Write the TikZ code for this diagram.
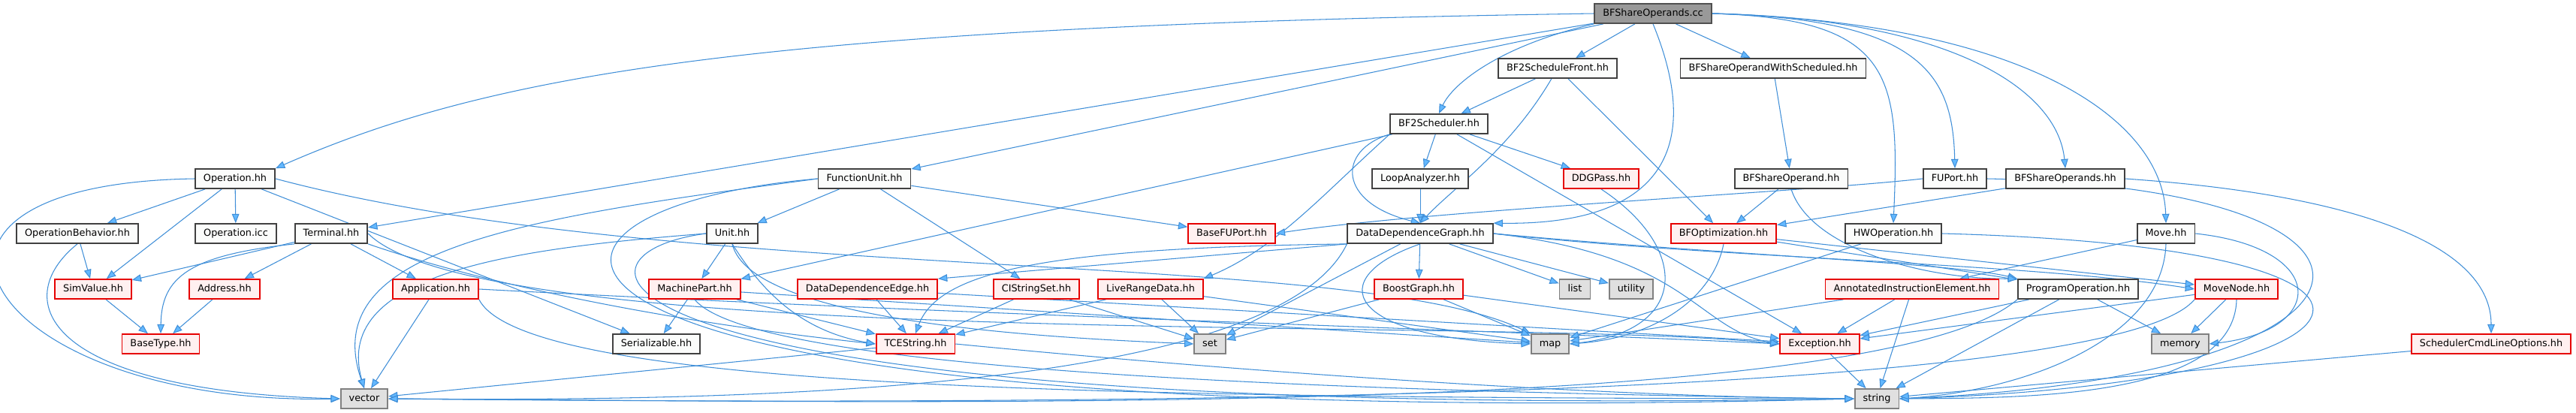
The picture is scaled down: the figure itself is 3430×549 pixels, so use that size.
\documentclass[tikz,border=0pt]{standalone}
\usepackage{fontspec}
\setmainfont{DejaVu Sans}
\usepackage{tikz}
\usetikzlibrary{arrows.meta}

\definecolor{edgeblue}{RGB}{64,143,216}
\definecolor{tipblue}{RGB}{99,184,255}
\definecolor{boxline}{RGB}{64,64,64}
\definecolor{boxfill}{RGB}{251,252,251}
\definecolor{redline}{RGB}{230,0,0}
\definecolor{redfill}{RGB}{255,240,240}
\definecolor{sysline}{RGB}{128,128,128}
\definecolor{sysfill}{RGB}{224,224,224}
\definecolor{rootline}{RGB}{80,80,80}
\definecolor{rootfill}{RGB}{153,153,153}

\pgfdeclarelayer{edges}
\pgfsetlayers{edges,main}

\tikzset{
  file/.style={draw=boxline,fill=boxfill,line width=1pt,minimum height=0.52cm,
    inner xsep=0.22cm,inner ysep=0pt,text height=5.6pt,text depth=1.6pt,
    font=\fontsize{7.3}{9}\selectfont},
  redfile/.style={file,draw=redline,fill=redfill},
  sysfile/.style={file,draw=sysline,fill=sysfill},
  rootfile/.style={file,draw=rootline,fill=rootfill},
  dep/.style={draw=edgeblue,line width=0.6pt,-{Triangle[length=7pt,width=5.5pt,fill=tipblue]}}
}

\begin{document}
\begin{tikzpicture}[x=0.02cm,y=-0.02cm]
\useasboundingbox (0,0) rectangle (3430,549);

% files
\node[rootfile] (cc) at (2201,18) {BFShareOperands.cc};
\node[file] (front) at (2074,91) {BF2ScheduleFront.hh};
\node[file] (withsched) at (2361,91) {BFShareOperandWithScheduled.hh};
\node[file] (sched) at (1916,165) {BF2Scheduler.hh};
\node[file] (operation) at (313,238) {Operation.hh};
\node[file] (funit) at (1151,238) {FunctionUnit.hh};
\node[file] (loop) at (1891,238) {LoopAnalyzer.hh};
\node[redfile] (ddgpass) at (2132,238) {DDGPass.hh};
\node[file] (shareop) at (2385,238) {BFShareOperand.hh};
\node[file] (fuport) at (2603,238) {FUPort.hh};
\node[file] (shareops) at (2750,238) {BFShareOperands.hh};
\node[file] (opbeh) at (103,311) {OperationBehavior.hh};
\node[file] (opicc) at (314,311) {Operation.icc};
\node[file] (terminal) at (441,311) {Terminal.hh};
\node[file] (unit) at (975,311) {Unit.hh};
\node[redfile] (basefuport) at (1640,311) {BaseFUPort.hh};
\node[file] (ddg) at (1891,311) {DataDependenceGraph.hh};
\node[redfile] (bfopt) at (2295,311) {BFOptimization.hh};
\node[file] (hwop) at (2521,311) {HWOperation.hh};
\node[file] (move) at (2884,311) {Move.hh};
\node[redfile] (simvalue) at (124,385) {SimValue.hh};
\node[redfile] (address) at (299,385) {Address.hh};
\node[redfile] (application) at (580,385) {Application.hh};
\node[redfile] (machinepart) at (925,385) {MachinePart.hh};
\node[redfile] (ddedge) at (1155,385) {DataDependenceEdge.hh};
\node[redfile] (cistrset) at (1380,385) {CIStringSet.hh};
\node[redfile] (liverange) at (1532,385) {LiveRangeData.hh};
\node[redfile] (boostgraph) at (1889,385) {BoostGraph.hh};
\node[sysfile] (list) at (2097,385) {list};
\node[sysfile] (utility) at (2172,385) {utility};
\node[redfile] (aie) at (2546,385) {AnnotatedInstructionElement.hh};
\node[file] (progop) at (2767,385) {ProgramOperation.hh};
\node[redfile] (movenode) at (2978,385) {MoveNode.hh};
\node[redfile] (basetype) at (214,458) {BaseType.hh};
\node[file] (serializable) at (874,458) {Serializable.hh};
\node[redfile] (tcestring) at (1219,458) {TCEString.hh};
\node[sysfile] (set) at (1611,458) {set};
\node[sysfile] (map) at (2064,458) {map};
\node[redfile] (exception) at (2423,458) {Exception.hh};
\node[sysfile] (memory) at (2903,458) {memory};
\node[redfile] (schedopts) at (3317,458) {SchedulerCmdLineOptions.hh};
\node[sysfile] (vector) at (485,531) {vector};
\node[sysfile] (string) at (2499,531) {string};

\begin{pgfonlayer}{edges}
\fill[white] (0,0) rectangle (3430,549);
% from the .cc file
\draw[dep] (cc.west) .. controls (1000,35) and (650,100) .. (operation.north east);
\draw[dep] (cc) -- (funit);
\draw[dep] (cc) -- (terminal);
\draw[dep] (cc.south west) .. controls (2000,60) and (1935,110) .. (sched.north);
\draw[dep] (cc) -- (front);
\draw[dep] (cc) -- (withsched);
\draw[dep] (cc.south) .. controls (2270,200) and (2210,300) .. (ddg.north east);
\draw[dep] (cc.east) .. controls (2520,25) and (2530,100) .. (hwop.north);
\draw[dep] (cc.east) .. controls (2560,25) and (2600,100) .. (fuport.north);
\draw[dep] (cc.east) .. controls (2600,25) and (2740,120) .. (shareops.north);
\draw[dep] (cc.east) .. controls (2700,30) and (2880,160) .. (move.north);

\draw[dep] (front) -- (sched);
\draw[dep] (front) .. controls (2010,200) and (1935,250) .. (ddg.north);
\draw[dep] (front) -- (bfopt);
\draw[dep] (withsched) -- (shareop);

\draw[dep] (sched) -- (loop);
\draw[dep] (sched) -- (ddgpass);
\draw[dep] (sched.south west) .. controls (1780,200) and (1780,270) .. (ddg.north);
\draw[dep] (sched) -- (machinepart);
\draw[dep] (sched.south west) .. controls (1760,260) and (1700,330) .. (liverange.north east);
\draw[dep] (sched) -- (exception);
\draw[dep] (loop) -- (ddg);
\draw[dep] (ddgpass.south) .. controls (2250,330) and (2250,440) .. (map.east);

\draw[dep] (shareop) -- (bfopt);
\draw[dep] (shareop.south) .. controls (2410,330) and (2560,372) .. (progop.north west);
\draw[dep] (fuport.west) .. controls (2400,256) and (1900,280) .. (basefuport.east);
\draw[dep] (fuport.east) .. controls (3250,250) and (3230,500) .. (string.east);
\draw[dep] (shareops) -- (bfopt);
\draw[dep] (shareops.east) .. controls (3150,260) and (3317,330) .. (schedopts.north);

% left part
\draw[dep] (operation) -- (opbeh);
\draw[dep] (operation) -- (simvalue);
\draw[dep] (operation) -- (opicc);
\draw[dep] (operation) -- (serializable);
\draw[dep] (operation.west) .. controls (-200,245) and (-20,540) .. (vector.west);
\draw[dep] (operation.east) .. controls (900,380) and (1800,330) .. (map.north west);
\draw[dep] (opbeh) -- (simvalue);
\draw[dep] (opbeh.south) .. controls (10,400) and (60,520) .. (vector.west);

\draw[dep] (funit) -- (unit);
\draw[dep] (funit) -- (basefuport);
\draw[dep] (funit) -- (cistrset);
\draw[dep] (funit.west) .. controls (700,290) and (420,330) .. (vector.north);
\draw[dep] (funit.west) .. controls (600,280) and (600,580) .. (string.west);

\draw[dep] (terminal) -- (simvalue);
\draw[dep] (terminal.south west) .. controls (250,340) and (215,370) .. (basetype.north);
\draw[dep] (terminal) -- (address);
\draw[dep] (terminal) -- (application);
\draw[dep] (terminal.south east) .. controls (650,380) and (900,430) .. (tcestring.west);
\draw[dep] (terminal.east) .. controls (650,470) and (2000,420) .. (exception.west);

\draw[dep] (simvalue) -- (basetype);
\draw[dep] (address) -- (basetype);
\draw[dep] (application) -- (vector);
\draw[dep] (application.south east) .. controls (700,520) and (1500,530) .. (string.west);
\draw[dep] (application.east) .. controls (1300,420) and (2000,440) .. (exception.west);

\draw[dep] (unit) -- (machinepart);
\draw[dep] (unit.west) .. controls (700,330) and (440,360) .. (vector.north);
\draw[dep] (unit.south) .. controls (1010,380) and (1060,440) .. (tcestring.west);
\draw[dep] (unit.south) .. controls (1000,430) and (1400,450) .. (set.west);
\draw[dep] (unit.west) .. controls (720,340) and (760,560) .. (string.west);

\draw[dep] (machinepart) -- (serializable);
\draw[dep] (machinepart) -- (tcestring);
\draw[dep] (machinepart) -- (map);
\draw[dep] (machinepart.south) .. controls (1000,490) and (1700,520) .. (string.west);
\draw[dep] (ddedge) -- (tcestring);
\draw[dep] (ddedge) -- (exception);
\draw[dep] (cistrset) -- (set);
\draw[dep] (cistrset) -- (tcestring);
\draw[dep] (liverange) -- (set);
\draw[dep] (liverange) -- (tcestring);
\draw[dep] (liverange) -- (map);
\draw[dep] (tcestring) -- (vector);
\draw[dep] (tcestring.east) .. controls (1600,490) and (2100,528) .. (string.west);

% graph part
\draw[dep] (ddg) -- (boostgraph);
\draw[dep] (ddg) -- (list);
\draw[dep] (ddg) -- (utility);
\draw[dep] (ddg) -- (set);
\draw[dep] (ddg.south west) -- (ddedge.north east);
\draw[dep] (ddg.south west) .. controls (1400,330) and (1250,360) .. (tcestring.north);
\draw[dep] (ddg.south) .. controls (1760,370) and (1790,450) .. (map.west);
\draw[dep] (ddg.east) .. controls (2250,340) and (2260,440) .. (exception.west);
\draw[dep] (ddg.east) .. controls (2300,345) and (2700,350) .. (movenode.west);
\draw[dep] (ddg.east) .. controls (2300,340) and (2600,350) .. (progop.north west);
\draw[dep] (ddg.south west) .. controls (1700,520) and (1000,535) .. (vector.east);
\draw[dep] (boostgraph) -- (set);
\draw[dep] (boostgraph) -- (map);
\draw[dep] (boostgraph) -- (exception);

% right part
\draw[dep] (bfopt.south) .. controls (2280,400) and (2200,450) .. (map.east);
\draw[dep] (bfopt) -- (movenode);
\draw[dep] (bfopt) -- (progop);
\draw[dep] (hwop) -- (map);
\draw[dep] (hwop.east) .. controls (3300,330) and (3200,510) .. (string.east);
\draw[dep] (move) -- (aie);
\draw[dep] (move.east) .. controls (3100,330) and (3100,440) .. (memory.east);
\draw[dep] (move.south) .. controls (2880,450) and (2700,520) .. (string.east);
\draw[dep] (aie) -- (exception);
\draw[dep] (aie) -- (string);
\draw[dep] (aie) -- (map);
\draw[dep] (progop) -- (exception);
\draw[dep] (progop) -- (string);
\draw[dep] (progop) -- (memory);
\draw[dep] (progop.south west) .. controls (2500,560) and (1200,535) .. (vector.east);
\draw[dep] (movenode) -- (memory);
\draw[dep] (movenode) -- (exception);
\draw[dep] (movenode.south) .. controls (2975,530) and (2700,530) .. (string.east);
\draw[dep] (movenode.south west) .. controls (2800,545) and (1200,538) .. (vector.east);
\draw[dep] (exception) -- (string);
\draw[dep] (schedopts) -- (string);
\end{pgfonlayer}
\end{tikzpicture}
\end{document}
